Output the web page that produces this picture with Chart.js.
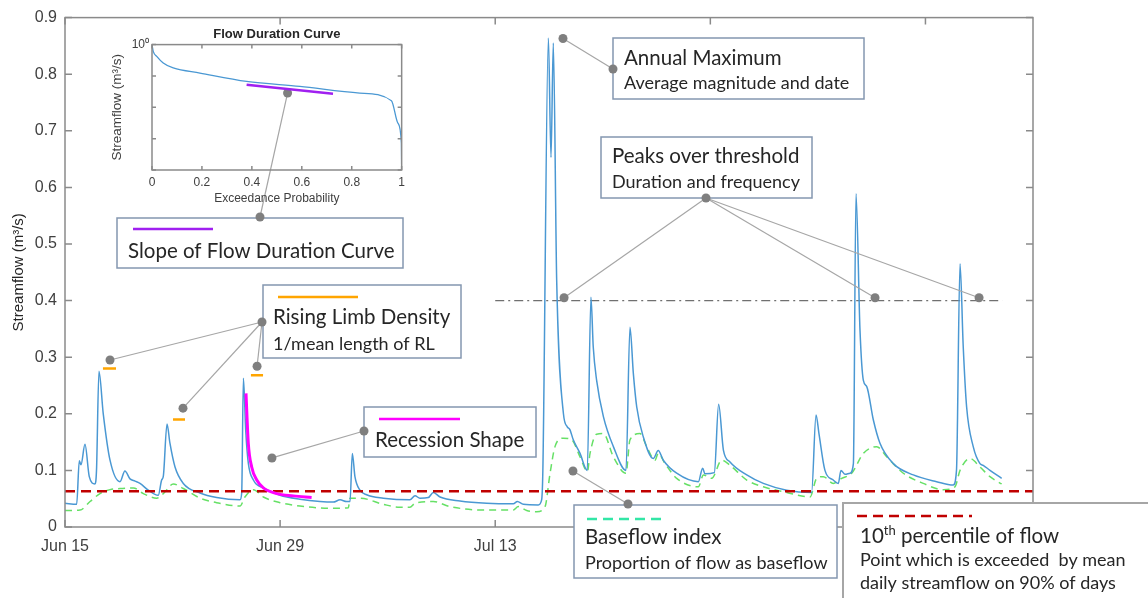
<!DOCTYPE html>
<html>
<head>
<meta charset="utf-8">
<script src="https://cdn.jsdelivr.net/npm/chart.js@4.4.1/dist/chart.umd.min.js"></script>
<style>
    body { margin: 0; background: #fff; }
    #wrap { position: relative; width: 1148px; height: 598px; overflow: hidden; }
    #hydro { position: absolute; left: 0; top: 0; }
    #fdc { position: absolute; left: 100px; top: 20px; }
</style>
</head>
<body>
<div id="wrap">
    <canvas id="hydro" width="1148" height="598"></canvas>
    <canvas id="fdc" width="310" height="190"></canvas>
</div>
<script>
//Hydrograph - days counted from Jun 15
var flowDays = [0, 0.76, 0.93, 1.04, 1.30, 1.58, 1.95, 2.05, 2.21, 2.49, 2.93, 3.58, 3.90, 4.23, 4.56, 4.88, 5.42, 6.07, 6.29, 6.40,
    6.64, 6.83, 7.16, 7.70, 8.79, 9.87, 11.39, 11.50, 11.61, 11.76, 11.93, 12.26, 12.91, 13.99, 15.29, 16.60, 17.46, 17.90, 18.33, 18.55,
    18.70, 18.87, 19.20, 19.63, 20.72, 22.45, 22.78, 23.10, 23.65, 23.97, 24.41, 25.71, 27.45, 29.18, 29.44, 29.83, 30.80, 31.02, 31.10, 31.46,
    31.63, 31.78, 32.00, 32.44, 32.69, 32.86, 33.08, 33.52, 33.99, 34.23, 34.38, 34.60, 35.04, 35.69, 36.51, 36.77, 36.99, 37.21, 37.64, 38.29,
    38.61, 38.94, 39.81, 41.22, 41.50, 41.65, 42.26, 42.54, 42.85, 43.28, 44.37, 45.45, 46.97, 48.59, 48.88, 49.07, 49.46, 50.00, 50.33, 50.50,
    50.77, 51.09, 51.31, 51.48, 51.74, 51.96, 52.18, 52.61, 53.04, 53.91, 55.21, 56.73, 57.81, 58.02, 58.25, 58.46, 58.68, 59.11, 59.55, 59.76,
    60.20, 60.96];
var flowValues = [0.042, 0.040, 0.117, 0.110, 0.146, 0.089, 0.076, 0.100, 0.275, 0.200, 0.118, 0.080, 0.099, 0.085, 0.081, 0.077, 0.065, 0.056, 0.083, 0.090,
    0.182, 0.148, 0.106, 0.077, 0.060, 0.052, 0.048, 0.060, 0.263, 0.171, 0.113, 0.083, 0.069, 0.056, 0.049, 0.045, 0.044, 0.048, 0.045, 0.045,
    0.130, 0.089, 0.065, 0.057, 0.051, 0.048, 0.055, 0.051, 0.052, 0.061, 0.053, 0.046, 0.042, 0.041, 0.045, 0.040, 0.039, 0.048, 0.100, 0.864,
    0.653, 0.855, 0.436, 0.200, 0.177, 0.172, 0.154, 0.130, 0.100, 0.406, 0.318, 0.259, 0.195, 0.142, 0.100, 0.353, 0.271, 0.212, 0.159, 0.121,
    0.135, 0.118, 0.095, 0.080, 0.104, 0.094, 0.096, 0.217, 0.136, 0.115, 0.092, 0.077, 0.065, 0.061, 0.198, 0.165, 0.100, 0.083, 0.077, 0.100,
    0.093, 0.095, 0.112, 0.589, 0.348, 0.259, 0.248, 0.189, 0.148, 0.112, 0.092, 0.080, 0.074, 0.100, 0.465, 0.318, 0.212, 0.142, 0.112, 0.109,
    0.100, 0.086];

//Baseflow (separated)
var baseDays = [0, 0.98, 1.63, 2.28, 2.93, 3.58, 4.45, 5.10, 5.97, 6.40, 7.05, 7.70, 8.79, 9.87, 11.39, 11.71, 12.26, 12.91, 13.99, 15.29,
    17.46, 18.44, 18.55, 19.20, 20.72, 21.80, 22.45, 22.78, 23.97, 25.06, 27.23, 29.18, 29.50, 30.05, 30.70, 31.24, 31.57, 31.89, 32.43, 32.98,
    33.52, 34.00, 34.17, 34.60, 35.04, 35.69, 36.51, 36.77, 37.42, 37.86, 38.40, 38.61, 39.05, 39.81, 41.22, 41.55, 42.09, 42.74, 43.28, 44.37,
    45.45, 46.97, 48.49, 48.92, 49.35, 50.00, 50.55, 51.20, 51.96, 52.83, 53.48, 54.56, 55.86, 57.16, 57.92, 58.25, 58.90, 59.55, 60.20, 60.96];
var baseValues = [0.029, 0.030, 0.045, 0.059, 0.066, 0.068, 0.069, 0.059, 0.051, 0.059, 0.076, 0.068, 0.051, 0.043, 0.037, 0.053, 0.066, 0.053, 0.043, 0.037,
    0.033, 0.034, 0.051, 0.051, 0.040, 0.035, 0.035, 0.042, 0.045, 0.036, 0.030, 0.030, 0.036, 0.029, 0.027, 0.036, 0.095, 0.142, 0.157, 0.154,
    0.124, 0.098, 0.130, 0.164, 0.165, 0.124, 0.095, 0.154, 0.165, 0.142, 0.118, 0.130, 0.112, 0.086, 0.071, 0.092, 0.086, 0.118, 0.109, 0.083,
    0.071, 0.061, 0.053, 0.086, 0.089, 0.077, 0.086, 0.095, 0.130, 0.142, 0.124, 0.095, 0.077, 0.066, 0.071, 0.100, 0.121, 0.106, 0.089, 0.076];

//Recession limb highlighted after the Jun 26 event
var recessionDays = [11.78, 11.93, 12.15, 12.48, 12.91, 13.78, 14.86, 16.05];
var recessionValues = [0.236, 0.148, 0.106, 0.083, 0.069, 0.059, 0.055, 0.052];

//Rising limb markers
var rldStart = [2.47, 7.03, 12.10];
var rldEnd = [3.32, 7.81, 12.89];
var rldLevel = [0.280, 0.190, 0.268];

var p10Flow = 0.063;
var thresholdFlow = 0.4;
var thresholdDays = [28, 61];

var dateTicks = [0, 14, 28, 42, 56];
var dateLabels = ['Jun 15', 'Jun 29', 'Jul 13', 'Jul 27', 'Aug 10'];

//Flow duration curve (inset)
var fdcProb = [0, 0.005, 0.019, 0.045, 0.085, 0.192, 0.379, 0.592, 0.832, 0.959, 0.985, 0.999, 1.0];
var fdcFlow = [1.0, 0.61, 0.42, 0.26, 0.18, 0.124, 0.067, 0.0464, 0.0285, 0.0162, 0.0031, 0.00071, 0.0001];
var slopeProb = [0.379, 0.725];
var slopeFlow = [0.0525, 0.027];
var fdcDecades = [0.0001, 0.001, 0.01, 0.1, 1];


function toPoints(xs, ys) {
    return xs.map(function (x, i) { return { x: x, y: ys[i] }; });
}

//boîte + ticks vers l'intérieur (style matlab)
function makeFrame(tickLen) {
    return {
        id: 'frame',
        afterDraw: function (chart) {
            var ctx = chart.ctx, a = chart.chartArea;
            var sx = chart.scales.x, sy = chart.scales.y;
            ctx.save();
            ctx.strokeStyle = '#8a8a8a';
            ctx.lineWidth = 1.5;
            ctx.strokeRect(a.left, a.top, a.right - a.left, a.bottom - a.top);
            ctx.beginPath();
            sx.ticks.forEach(function (t) {
                var px = sx.getPixelForValue(t.value);
                ctx.moveTo(px, a.bottom); ctx.lineTo(px, a.bottom - tickLen);
                ctx.moveTo(px, a.top); ctx.lineTo(px, a.top + tickLen);
            });
            sy.ticks.forEach(function (t) {
                var py = sy.getPixelForValue(t.value);
                ctx.moveTo(a.left, py); ctx.lineTo(a.left + tickLen, py);
                ctx.moveTo(a.right, py); ctx.lineTo(a.right - tickLen, py);
            });
            ctx.stroke();
            ctx.restore();
        }
    };
}

var rldPoints = [];
rldStart.forEach(function (s, i) {
    rldPoints.push({ x: s, y: rldLevel[i] }, { x: rldEnd[i], y: rldLevel[i] }, { x: rldEnd[i] + 0.1, y: null });
});

var axisFont = { family: 'Liberation Sans', size: 16 };
var smallFont = { family: 'Liberation Sans', size: 12 };

//------------------------------------------------------------------------------------------------------------------------
//Inset - courbe des débits classés
var insetChart = new Chart(document.getElementById('fdc'), {
    type: 'line',
    data: {
        datasets: [{
            data: toPoints(slopeProb, slopeFlow),
            borderColor: '#a020f0',
            borderWidth: 2.5,
            pointRadius: 0,
            order: 0
        }, {
            data: toPoints(fdcProb, fdcFlow),
            borderColor: '#4a98d3',
            borderWidth: 1.3,
            pointRadius: 0,
            cubicInterpolationMode: 'monotone',
            order: 1
        }]
    },
    options: {
        responsive: false,
        animation: false,
        events: [],
        layout: { padding: { left: 0, right: 8, top: 0, bottom: 0 } },
        plugins: {
            legend: { display: false },
            tooltip: { enabled: false },
            title: {
                display: true,
                fullSize: false,
                text: 'Flow Duration Curve',
                color: '#262626',
                font: { family: 'Liberation Sans', size: 13, weight: 'bold' },
                padding: { top: 7, bottom: 2 }
            }
        },
        scales: {
            x: {
                type: 'linear', min: 0, max: 1,
                afterFit: function (s) { s.height = 40; },
                grid: { display: false, drawTicks: false },
                border: { display: false },
                ticks: {
                    stepSize: 0.2, padding: 5, color: '#404040', font: smallFont, maxRotation: 0,
                    callback: function (v) { return (v === 0 || v === 1) ? String(v) : v.toFixed(1); }
                },
                title: { display: true, text: 'Exceedance Probability', color: '#404040', font: smallFont }
            },
            y: {
                type: 'logarithmic', min: 0.0001, max: 1,
                afterFit: function (s) { s.width = 52; },
                afterBuildTicks: function (s) { s.ticks = fdcDecades.map(function (v) { return { value: v }; }); },
                grid: { display: false, drawTicks: false },
                border: { display: false },
                ticks: {
                    padding: 3, color: '#404040', font: smallFont,
                    callback: function (v) { return v === 1 ? '10\u2070' : ''; }
                },
                title: {
                    display: true, text: 'Streamflow (m\u00b3/s)', color: '#404040',
                    font: { family: 'Liberation Sans', size: 13.5 }, padding: { top: 9 }
                }
            }
        }
    },
    plugins: [makeFrame(4)]
});

//------------------------------------------------------------------------------------------------------------------------
//Annotations : boîtes, traits de rappel et points
var H1 = 20.5, H2 = 18;
var callouts = [
    { box: [117, 218, 286, 50], key: { color: '#a020f0', dash: [], x1: 133, x2: 213, y: 229 },
      text: [{ x: 128, y: 258, runs: [{ t: 'Slope of Flow Duration Curve', size: H1 }] }],
      hub: [260, 217], inset: [[0.543, 0.0285]] },
    { box: [263, 285, 198, 73], key: { color: '#ffa500', dash: [], x1: 278, x2: 358, y: 297 },
      text: [{ x: 273, y: 324, runs: [{ t: 'Rising Limb Density', size: H1 }] },
             { x: 273, y: 350, runs: [{ t: '1/mean length of RL', size: H2 }] }],
      hub: [262, 322], targets: [[2.93, 0.295], [7.68, 0.21], [12.5, 0.284]] },
    { box: [364, 407, 172, 50], key: { color: '#ff00ff', dash: [], x1: 379, x2: 460, y: 419 },
      text: [{ x: 375, y: 447, runs: [{ t: 'Recession Shape', size: H1 }] }],
      hub: [364, 431], targets: [[13.47, 0.122]] },
    { box: [613, 38, 251, 61],
      text: [{ x: 624, y: 65, runs: [{ t: 'Annual Maximum', size: H1 }] },
             { x: 624, y: 89, runs: [{ t: 'Average magnitude and date', size: H2 }] }],
      hub: [613, 69], targets: [[32.41, 0.863]] },
    { box: [601, 137, 211, 61],
      text: [{ x: 612, y: 163, runs: [{ t: 'Peaks over threshold', size: H1 }] },
             { x: 612, y: 188, runs: [{ t: 'Duration and frequency', size: H2 }] }],
      hub: [706, 198], targets: [[32.48, 0.405], [52.72, 0.405], [59.49, 0.405]] },
    { box: [574, 505, 263, 73], key: { color: '#33e6a6', dash: [10, 6], x1: 587, x2: 667, y: 519 },
      text: [{ x: 585, y: 544, runs: [{ t: 'Baseflow index', size: H1 }] },
             { x: 585, y: 569, runs: [{ t: 'Proportion of flow as baseflow', size: H2 }] }],
      hub: [628, 504], targets: [[33.06, 0.099]] },
    { box: [843, 503, 320, 110], border: '#a6a6a6', borderWidth: 2,
      key: { color: '#c00000', dash: [10, 6], x1: 857, x2: 972, y: 516 },
      text: [{ x: 860, y: 543, runs: [{ t: '10', size: H1 }, { t: 'th', size: 13, rise: 8 }, { t: ' percentile of flow', size: H1 }] },
             { x: 860, y: 566, runs: [{ t: 'Point which is exceeded  by mean', size: H2 }] },
             { x: 860, y: 589, runs: [{ t: 'daily streamflow on 90% of days', size: H2 }] }] }
];

var calloutPlugin = {
    id: 'callouts',
    afterDraw: function (chart) {
        var ctx = chart.ctx, sx = chart.scales.x, sy = chart.scales.y;
        var insetCanvas = document.getElementById('fdc');
        var ox = insetCanvas.offsetLeft, oy = insetCanvas.offsetTop;
        var dots = [];
        ctx.save();
        //traits de rappel
        ctx.strokeStyle = '#a6a6a6';
        ctx.lineWidth = 1.2;
        callouts.forEach(function (c) {
            var ends = [];
            (c.targets || []).forEach(function (p) { ends.push([sx.getPixelForValue(p[0]), sy.getPixelForValue(p[1])]); });
            (c.inset || []).forEach(function (p) {
                ends.push([ox + insetChart.scales.x.getPixelForValue(p[0]), oy + insetChart.scales.y.getPixelForValue(p[1])]);
            });
            ends.forEach(function (e) {
                ctx.beginPath();
                ctx.moveTo(c.hub[0], c.hub[1]);
                ctx.lineTo(e[0], e[1]);
                ctx.stroke();
                dots.push(e);
            });
            if (c.hub) dots.push(c.hub);
        });
        //boîtes
        callouts.forEach(function (c) {
            var b = c.box;
            ctx.fillStyle = '#ffffff';
            ctx.fillRect(b[0], b[1], b[2], b[3]);
            ctx.strokeStyle = c.border || '#8497b0';
            ctx.lineWidth = c.borderWidth || 1.5;
            ctx.setLineDash([]);
            ctx.strokeRect(b[0], b[1], b[2], b[3]);
            if (c.key) {
                ctx.strokeStyle = c.key.color;
                ctx.lineWidth = 2.5;
                ctx.setLineDash(c.key.dash);
                ctx.beginPath();
                ctx.moveTo(c.key.x1, c.key.y);
                ctx.lineTo(c.key.x2, c.key.y);
                ctx.stroke();
                ctx.setLineDash([]);
            }
            ctx.fillStyle = '#262626';
            ctx.textBaseline = 'alphabetic';
            ctx.textAlign = 'left';
            c.text.forEach(function (line) {
                var x = line.x;
                line.runs.forEach(function (r) {
                    ctx.font = r.size + 'px Lato';
                    ctx.fillText(r.t, x, line.y - (r.rise || 0));
                    x += ctx.measureText(r.t).width;
                });
            });
        });
        //points
        ctx.fillStyle = '#7f7f7f';
        dots.forEach(function (d) {
            ctx.beginPath();
            ctx.arc(d[0], d[1], 4.5, 0, Math.PI * 2);
            ctx.fill();
        });
        ctx.restore();
    }
};

//------------------------------------------------------------------------------------------------------------------------
//Hydrogramme principal
var chart = new Chart(document.getElementById('hydro'), {
    type: 'line',
    data: {
        datasets: [{
            label: 'Rising limb',
            data: rldPoints,
            borderColor: '#ffa500',
            borderWidth: 2.5,
            pointRadius: 0,
            spanGaps: false,
            order: 0
        }, {
            label: 'Recession',
            data: toPoints(recessionDays, recessionValues),
            borderColor: '#ff00ff',
            borderWidth: 3,
            pointRadius: 0,
            cubicInterpolationMode: 'monotone',
            order: 1
        }, {
            label: '10th percentile',
            data: toPoints([0, 63], [p10Flow, p10Flow]),
            borderColor: '#c00000',
            borderWidth: 2.5,
            borderDash: [10, 6],
            pointRadius: 0,
            order: 2
        }, {
            label: 'Streamflow',
            data: toPoints(flowDays, flowValues),
            borderColor: '#4a98d3',
            borderWidth: 1.5,
            pointRadius: 0,
            cubicInterpolationMode: 'monotone',
            order: 3
        }, {
            label: 'Baseflow',
            data: toPoints(baseDays, baseValues),
            borderColor: '#66e066',
            borderWidth: 1.5,
            borderDash: [7, 5],
            pointRadius: 0,
            cubicInterpolationMode: 'monotone',
            order: 4
        }, {
            label: 'Threshold',
            data: toPoints(thresholdDays, [thresholdFlow, thresholdFlow]),
            borderColor: '#707070',
            borderWidth: 1.2,
            borderDash: [9, 4, 2, 4],
            pointRadius: 0,
            order: 5
        }]
    },
    options: {
        responsive: false,
        animation: false,
        events: [],
        layout: { padding: { left: 0, right: 115, top: 17, bottom: 0 } },
        plugins: {
            legend: { display: false },
            tooltip: { enabled: false }
        },
        scales: {
            x: {
                type: 'linear', min: 0, max: 63,
                afterFit: function (s) { s.height = 71; },
                afterBuildTicks: function (s) { s.ticks = dateTicks.map(function (v) { return { value: v }; }); },
                grid: { display: false, drawTicks: false },
                border: { display: false },
                ticks: {
                    padding: 10, color: '#404040', font: axisFont, maxRotation: 0,
                    callback: function (v) { return dateLabels[dateTicks.indexOf(v)]; }
                }
            },
            y: {
                type: 'linear', min: 0, max: 0.9,
                afterFit: function (s) { s.width = 65; },
                grid: { display: false, drawTicks: false },
                border: { display: false },
                ticks: {
                    stepSize: 0.1, padding: 8, color: '#404040', font: axisFont,
                    callback: function (v) { return v === 0 ? '0' : v.toFixed(1); }
                },
                title: {
                    display: true, text: 'Streamflow (m\u00b3/s)', color: '#262626',
                    font: { family: 'Liberation Sans', size: 15 }, padding: { top: 10 }
                }
            }
        }
    },
    plugins: [makeFrame(7), calloutPlugin]
});
</script>
</body>
</html>
